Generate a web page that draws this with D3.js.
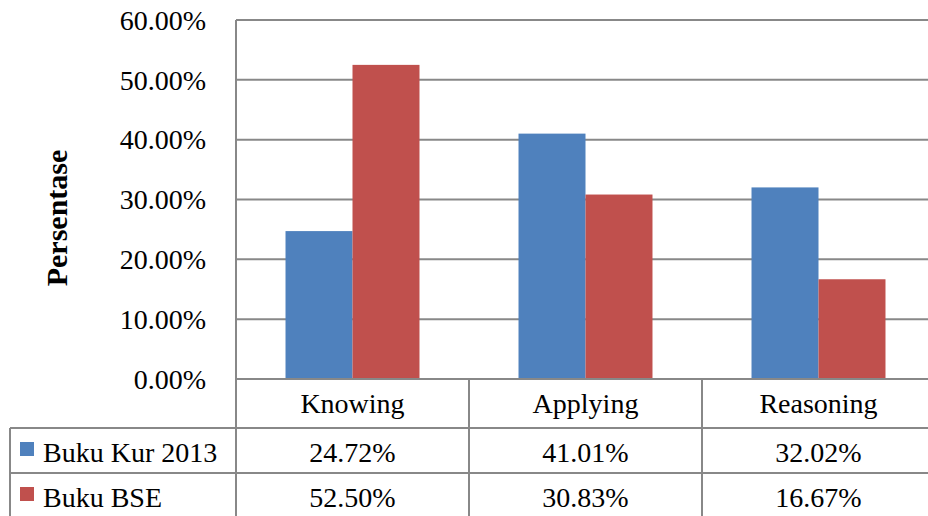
<!DOCTYPE html>
<html>
<head>
<meta charset="utf-8">
<script src="https://cdn.jsdelivr.net/npm/d3@7"></script>
<style>
  body { margin: 0; background: #fff; }
  svg text { font-family: "Liberation Serif", "Times New Roman", serif; fill: #000; }
</style>
</head>
<body>
<div id="chart"></div>
<script>
var categories = ["Knowing", "Applying", "Reasoning"];
var seriesNames = ["Buku Kur 2013", "Buku BSE"];
var kur2013 = [24.72, 41.01, 32.02];
var bse = [52.50, 30.83, 16.67];
var yTicks = [0, 10, 20, 30, 40, 50, 60];
var colors = ["#4f81bd", "#c0504d"];

var width = 928;
var height = 516;
var gridColor = "#888888";

var svg = d3.select("#chart").append("svg")
  .attr("width", width).attr("height", height);

var plot = { left: 236, right: 935, top: 20, bottom: 379 };
var tableLeft = 10;
var rowLines = [428, 473];

var x = d3.scaleBand().domain(categories).range([plot.left, plot.right]).padding(0);
var inner = d3.scaleBand().domain(seriesNames)
  .range([x.bandwidth() * 0.2125, x.bandwidth() * 0.7875]).padding(0);
var y = d3.scaleLinear().domain([0, 60]).range([plot.bottom, plot.top]);

function line(x1, y1, x2, y2) {
  svg.append("line")
    .attr("x1", x1).attr("y1", y1).attr("x2", x2).attr("y2", y2)
    .style("stroke", gridColor).style("stroke-width", 2);
}

// gridlines
svg.selectAll(".grid").data(yTicks.slice(1)).enter().append("line")
  .attr("x1", plot.left).attr("x2", width)
  .attr("y1", function(d) { return y(d); }).attr("y2", function(d) { return y(d); })
  .style("stroke", gridColor).style("stroke-width", 2);

// bars
var data = [kur2013, bse];
data.forEach(function(values, s) {
  svg.selectAll(".bar" + s).data(values).enter().append("rect")
    .attr("x", function(d, i) { return x(categories[i]) + inner(seriesNames[s]); })
    .attr("y", function(d) { return y(d); })
    .attr("width", inner.bandwidth())
    .attr("height", function(d) { return y(0) - y(d); })
    .attr("fill", colors[s]);
});

// y tick labels
svg.selectAll(".ytick").data(yTicks).enter().append("text")
  .attr("x", 206)
  .attr("y", function(d) { return y(d); })
  .attr("dy", "0.35em")
  .attr("text-anchor", "end")
  .style("font-size", "28px")
  .text(function(d) { return d3.format(".2f")(d) + "%"; });

// y title
svg.append("text")
  .attr("transform", "translate(67,218) rotate(-90)")
  .attr("text-anchor", "middle")
  .style("font-size", "30px")
  .style("font-weight", "bold")
  .text("Persentase");

// data table lines
line(plot.left, plot.top, plot.left, height);
line(plot.left, plot.bottom, width, plot.bottom);
rowLines.forEach(function(ry) { line(tableLeft, ry, width, ry); });
line(tableLeft, rowLines[0], tableLeft, height);
categories.slice(1).forEach(function(c) { line(x(c), plot.bottom, x(c), height); });

// header
svg.selectAll(".cat").data(categories).enter().append("text")
  .attr("x", function(d) { return x(d) + x.bandwidth() / 2; })
  .attr("y", 413)
  .attr("text-anchor", "middle")
  .style("font-size", "28px")
  .text(function(d) { return d; });

// rows
var rowBaselines = [462, 507];
data.forEach(function(values, s) {
  svg.append("rect")
    .attr("x", 20).attr("y", rowBaselines[s] - 20)
    .attr("width", 14).attr("height", 14)
    .attr("fill", colors[s]);
  svg.append("text")
    .attr("x", 43).attr("y", rowBaselines[s])
    .style("font-size", "28px")
    .text(seriesNames[s]);
  svg.selectAll(".val" + s).data(values).enter().append("text")
    .attr("x", function(d, i) { return x(categories[i]) + x.bandwidth() / 2; })
    .attr("y", rowBaselines[s])
    .attr("text-anchor", "middle")
    .style("font-size", "28px")
    .text(function(d) { return d3.format(".2f")(d) + "%"; });
});
</script>
</body>
</html>
